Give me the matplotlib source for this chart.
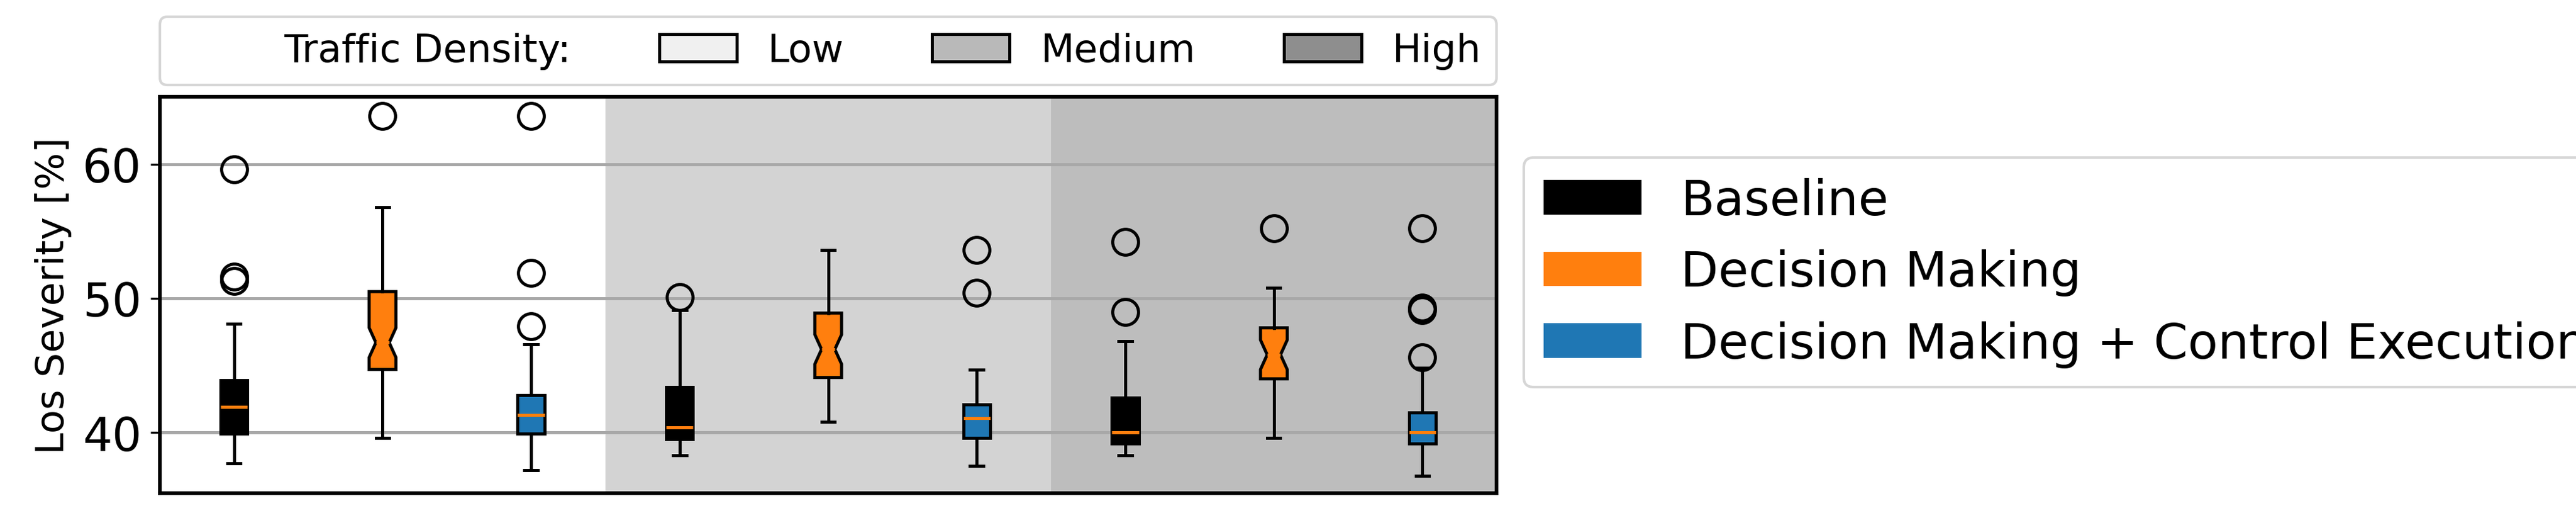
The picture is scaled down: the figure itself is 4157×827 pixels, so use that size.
import matplotlib

matplotlib.use("Agg")
import matplotlib.pyplot as plt
from matplotlib.patches import Patch

methods = ["Baseline", "Decision Making", "Decision Making + Control Execution"]
method_colors = ["black", "#ff7f0e", "#1f77b4"]
densities = ["Low", "Medium", "High"]
density_colors = ["#f0f0f0", "#b9b9b9", "#8e8e8e"]
band_colors = ["white", "#d3d3d3", "#bdbdbd"]

# per box (density-major, method-minor): whislo, q1, med, q3, whishi, fliers
whislo = [37.7, 39.6, 37.2, 38.3, 40.8, 37.5, 38.3, 39.6, 36.8]
q1 = [39.9, 44.7, 39.9, 39.5, 44.1, 39.6, 39.2, 44.0, 39.2]
med = [41.9, 46.7, 41.3, 40.4, 46.2, 41.1, 40.0, 45.8, 40.0]
q3 = [43.9, 50.5, 42.8, 43.4, 48.9, 42.1, 42.6, 47.8, 41.5]
whishi = [48.1, 56.8, 46.6, 49.1, 53.6, 44.7, 46.8, 50.8, 44.8]
fliers = [
    [59.6, 51.6, 51.3],
    [63.6],
    [47.9, 51.9, 63.6],
    [50.1],
    [],
    [50.4, 53.6],
    [49.0, 54.2],
    [55.2],
    [45.6, 49.1, 49.3, 55.2],
]

fig = plt.figure(figsize=(13.857, 2.76), dpi=300)
ax = fig.add_axes([0.062, 0.039, 0.519, 0.771])

for i, c in enumerate(band_colors):
    ax.axvspan(0.5 + 3 * i, 3.5 + 3 * i, color=c, zorder=0, lw=0)
ax.yaxis.grid(True, color="#a8a8a8", lw=1.2, zorder=1)
ax.set_axisbelow(True)

for i in range(9):
    m = i % 3
    notch = m == 1
    stat = dict(whislo=whislo[i], q1=q1[i], med=med[i], q3=q3[i], whishi=whishi[i], fliers=fliers[i])
    if notch:
        stat["cilo"] = med[i] - 1.1
        stat["cihi"] = med[i] + 1.1
    ax.bxp(
        [stat],
        positions=[i + 1],
        widths=0.18,
        patch_artist=True,
        shownotches=notch,
        boxprops=dict(facecolor=method_colors[m], edgecolor="black", lw=1.2),
        medianprops=dict(color="#ff7f0e", lw=1.2),
        whiskerprops=dict(lw=1.2),
        capprops=dict(lw=1.2),
        flierprops=dict(marker="o", markerfacecolor="none", markeredgecolor="black", markersize=10, mew=1.2),
        manage_ticks=False,
    )

ax.set_xlim(0.5, 9.5)
ax.set_ylim(35.5, 65)
ax.set_yticks([40, 50, 60])
ax.set_xticks([])
ax.tick_params(axis="y", labelsize=18)
ax.set_ylabel("Los Severity [%]", fontsize=15)
for s in ax.spines.values():
    s.set_linewidth(1.4)

top_handles = [Patch(visible=False)] + [
    Patch(facecolor=c, edgecolor="black", lw=1.2) for c in density_colors
]
ax.legend(
    top_handles,
    ["Traffic Density:"] + densities,
    ncol=4,
    mode="expand",
    loc="lower left",
    bbox_to_anchor=(0.0, 1.03, 1.0, 0.2),
    fontsize=15,
    borderaxespad=0,
)
right_handles = [Patch(facecolor=c) for c in method_colors]
fig.legend(
    right_handles,
    methods,
    loc="upper left",
    bbox_to_anchor=(0.582, 0.74),
    fontsize=19,
)

fig.savefig("out.png")
